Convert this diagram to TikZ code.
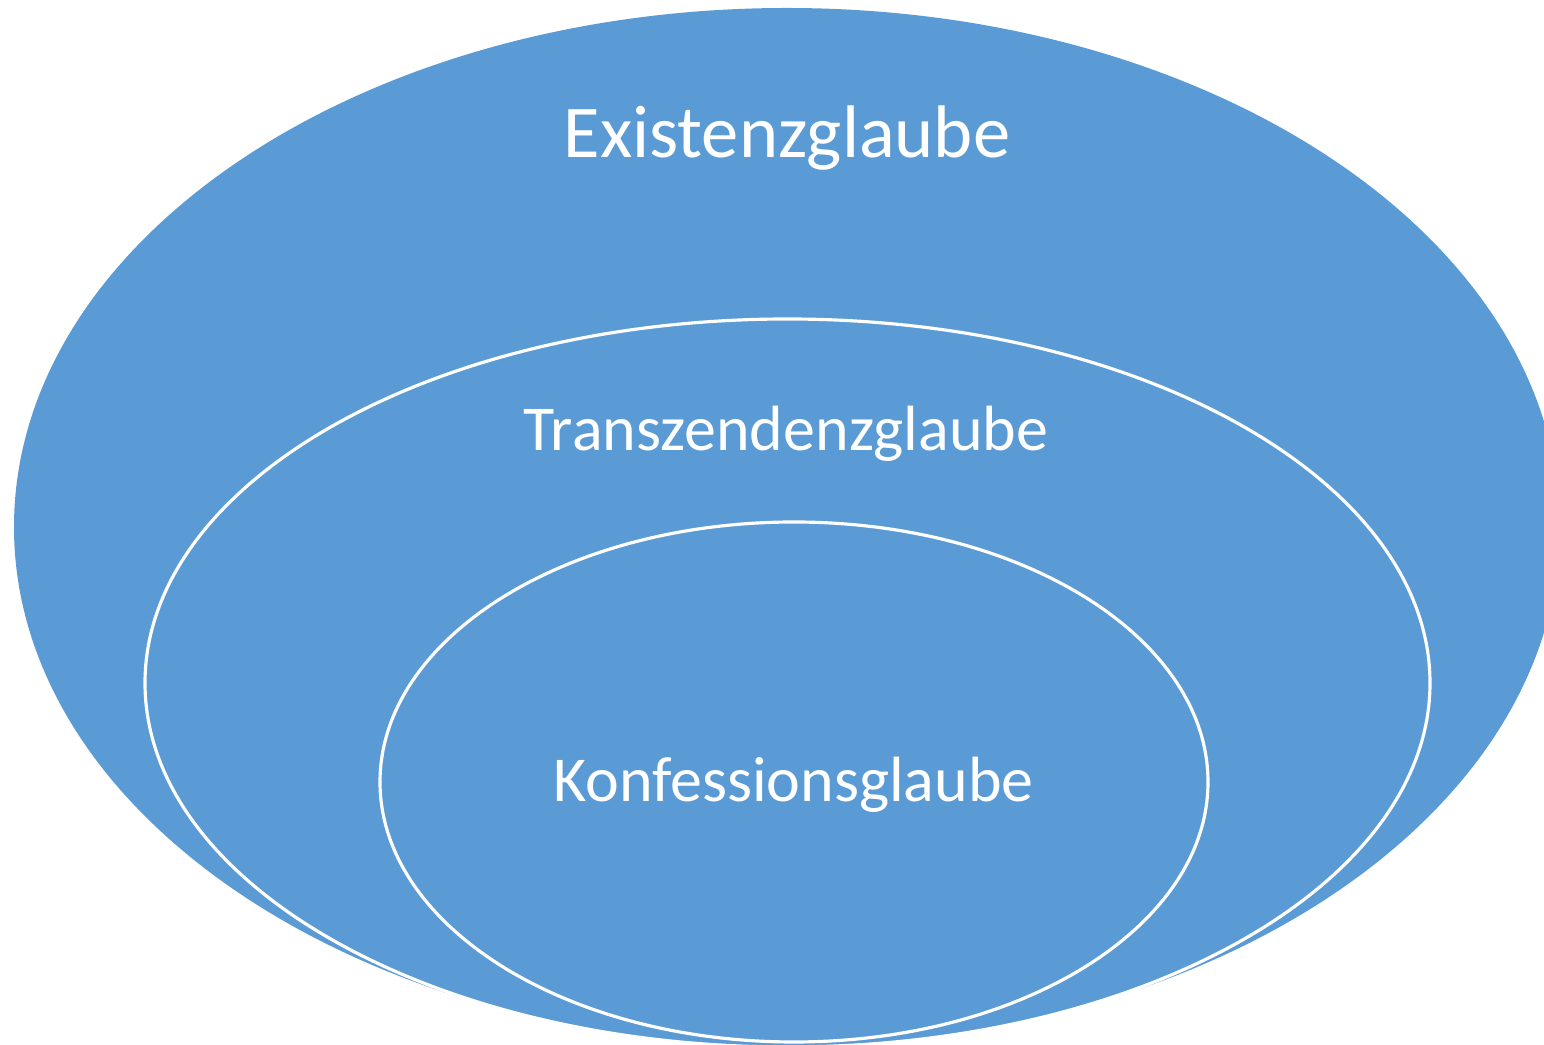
\documentclass[tikz,border=0pt]{standalone}
\usepackage{fontspec}
\setmainfont{Carlito}
\usepackage{tikz}
\definecolor{glaubeblue}{HTML}{5B9BD5}
\tikzset{%
    ring/.style={fill=glaubeblue, draw=white, line width=0.9pt},
    label/.style={text=white, anchor=base, inner sep=0pt, font=\fontsize{18.2}{22}\selectfont}
}

\begin{document}
\begin{tikzpicture}
    \path[use as bounding box, clip] (0,0) rectangle (15.44,10.45);

    % outer, middle and inner ellipse
    \fill[glaubeblue] (7.87,5.18) ellipse [x radius=7.73, y radius=5.19];
    \draw[ring] (7.875,3.62) ellipse [x radius=6.425, y radius=3.64];
    \draw[ring] (7.94,2.63) ellipse [x radius=4.14, y radius=2.60];

    \node[label, font=\fontsize{21.2}{25}\selectfont] (existenz) at (7.87,8.875) {Existenzglaube};
    \node[label] (transzendenz) at (7.86,5.94) {Transzendenzglaube};
    \node[label] (konfession) at (7.935,2.43) {Konfessionsglaube};
\end{tikzpicture}
\end{document}
